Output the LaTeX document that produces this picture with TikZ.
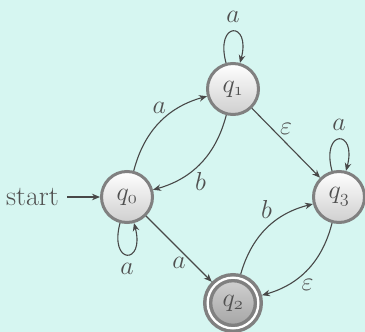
\RequirePackage{fix-cm}
\documentclass[tikz,border=0pt]{standalone}
\usetikzlibrary{arrows.meta}
\definecolor{bg}{RGB}{214,246,241}
\definecolor{ink}{RGB}{72,72,72}
\definecolor{txt}{RGB}{80,80,80}
\definecolor{ringc}{RGB}{128,128,128}
\begin{document}
\begin{tikzpicture}[x=1pt,y=-1pt,
  >={Stealth[length=8pt,width=6.5pt]},
  every loop/.style={min distance=42pt},
  big/.style={font=\fontsize{26}{31}\selectfont,text=txt},
  st/.style={big,circle,minimum size=51pt,inner sep=0pt,line width=3pt,draw=ringc,
    top color=white,bottom color=gray!38},
  acc/.style={big,circle,minimum size=50.7pt,inner sep=0pt,line width=3.5pt,draw=ringc,
    double=white,double distance=2.3pt,outer sep=4.65pt,
    top color=gray!35,bottom color=gray!72},
  edge/.style={draw=ink,line width=1.1pt,->},
  redge/.style={draw=ink,line width=1.1pt,<-},
  lab/.style={big,inner sep=3pt}
]
\fill[bg] (0,0) rectangle (365,332);
\useasboundingbox (0,0) rectangle (365,332);
\node[st]  (q0) at (127,197) {$q_{\oldstylenums{0}}$};
\node[st]  (q1) at (233,89)  {$q_{\oldstylenums{1}}$};
\node[acc] (q2) at (233,303) {$q_{\oldstylenums{2}}$};
\node[st]  (q3) at (339,197) {$q_{\oldstylenums{3}}$};
\node[big,font=\fontsize{28}{32}\selectfont,anchor=east,inner sep=8pt] (start) at (67,197) {start};
\draw[edge] (start) -- (q0);
\draw[edge] (q0) to[bend left] node[lab,above=6pt] {$a$} (q1);
\draw[edge] (q1) to[bend left] node[lab,below=6pt] {$b$} (q0);
\draw[edge] (q1) to node[lab,above=5pt] {$\varepsilon$} (q3);
\draw[edge] (q0) to node[lab,below=5pt] {$a$} (q2);
\draw[edge] (q2) to[bend left] node[lab,above=6pt] {$b$} (q3);
\draw[edge] (q3) to[bend left] node[lab,below=6pt] {$\varepsilon$} (q2);
\draw[edge] (q1) to[loop above] node[lab,above=5pt] {$a$} (q1);
\draw[edge] (q3) to[loop above] node[lab,above=5pt] {$a$} (q3);
\draw[redge] (q0) to[loop below] node[lab,below=5pt] {$a$} (q0);
\end{tikzpicture}
\end{document}
